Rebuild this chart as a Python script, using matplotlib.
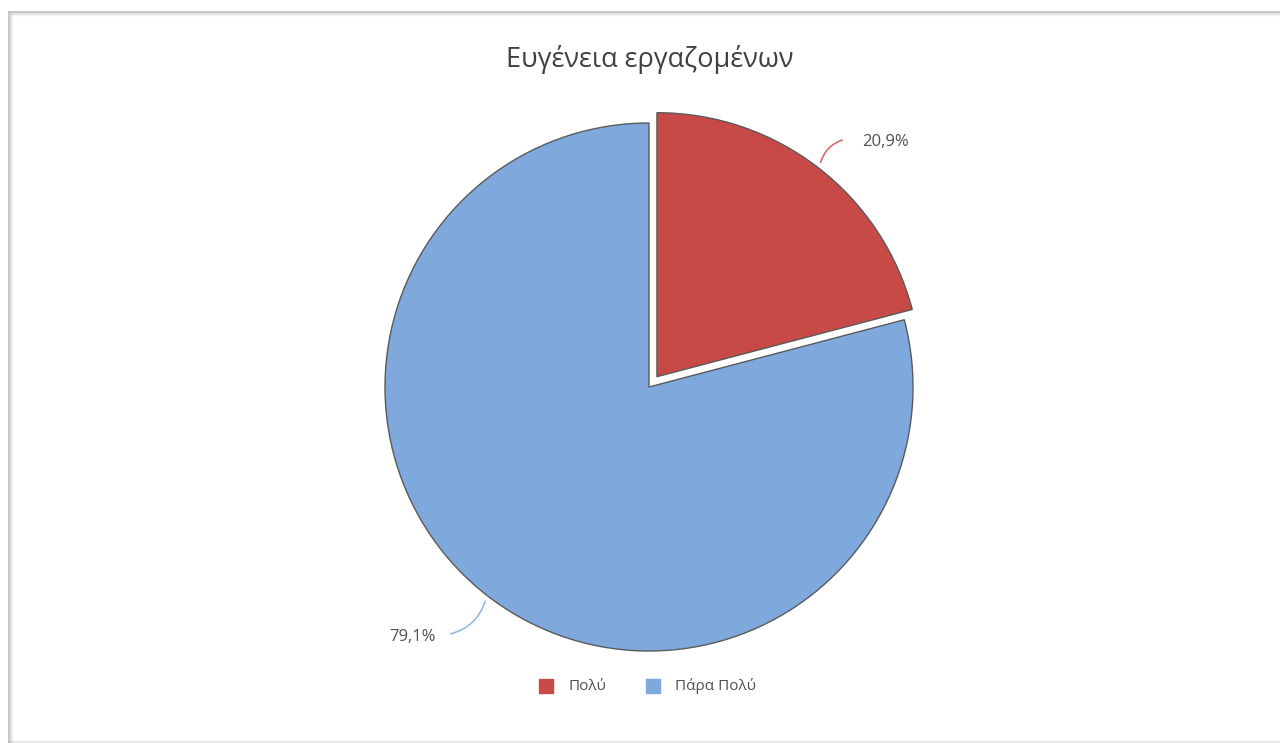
import numpy as np
import matplotlib.pyplot as plt
from matplotlib.patches import Rectangle

plt.rcParams['font.family'] = ['Open Sans', 'DejaVu Sans']

title = 'Ευγένεια εργαζομένων'
categories = ['Πολύ', 'Πάρα Πολύ']
values = [20.9, 79.1]
labels = ['20,9%', '79,1%']
colors = ['#C84A47', '#7FA8DC']
line_colors = ['#D9605D', '#8FB4E0']

W, H = 1280, 743
fig = plt.figure(figsize=(W / 100, H / 100), dpi=100)
ax = fig.add_axes([0, 0, 1, 1])
ax.set_xlim(0, W)
ax.set_ylim(0, H)
ax.axis('off')

# frame with a soft shadow (like the screenshot)
for i, a in enumerate([0.10, 0.07, 0.04]):
    ax.plot([9 + i + 1, 9 + i + 1], [0, H - 12 - i - 1], color='black', alpha=a, lw=1)
    ax.plot([9 + i + 1, W], [H - 12 - i - 1, H - 12 - i - 1], color='black', alpha=a, lw=1)
ax.plot([9, 9], [0, H - 12], color='#bdbdbd', lw=1.2)
ax.plot([9, W], [H - 12, H - 12], color='#bdbdbd', lw=1.2)
for i, a in enumerate([0.08, 0.05, 0.03]):
    ax.plot([9, W], [2 - i, 2 - i], color='black', alpha=a, lw=1)

cx, cy, r = 649, H - 387, 264
wedges, _ = ax.pie(values, colors=colors, startangle=90, counterclock=False,
                   explode=[13, 0], center=(cx, cy), radius=r,
                   wedgeprops=dict(edgecolor='#5a5a5a', linewidth=1.0))
ax.set_xlim(0, W)
ax.set_ylim(0, H)
ax.set_aspect('equal')

# percentage labels with curved leader lines
offsets = [(25, 26), (-38, -36)]
for w, lab, lc, (ox, oy) in zip(wedges, labels, line_colors, offsets):
    ang = np.deg2rad((w.theta1 + w.theta2) / 2)
    wx, wy = w.center
    px = wx + (r + 3) * np.cos(ang)
    py = wy + (r + 3) * np.sin(ang)
    ex, ey = px + ox, py + oy
    ax.annotate('', xy=(px, py), xytext=(ex, ey),
                arrowprops=dict(arrowstyle='-', color=lc, lw=1.1,
                                connectionstyle='arc3,rad=0.3'))
    ha = 'left' if ox > 0 else 'right'
    tx = ex + 17 if ox > 0 else ex - 12
    ax.text(tx, ey - 3, lab, ha=ha, va='center', fontsize=12, color='#505050')

ax.text(650, H - 60, title, ha='center', va='center', fontsize=19.5, color='#404040')

# legend
leg_x = [546, 653]
for x0, c, name in zip(leg_x, colors, categories):
    ax.add_patch(Rectangle((x0 - 7, H - 693), 14, 14, color=c))
    ax.text(x0 + 22, H - 686, name, ha='left', va='center', fontsize=11, color='#505050')

fig.savefig('out.png', dpi=100)
